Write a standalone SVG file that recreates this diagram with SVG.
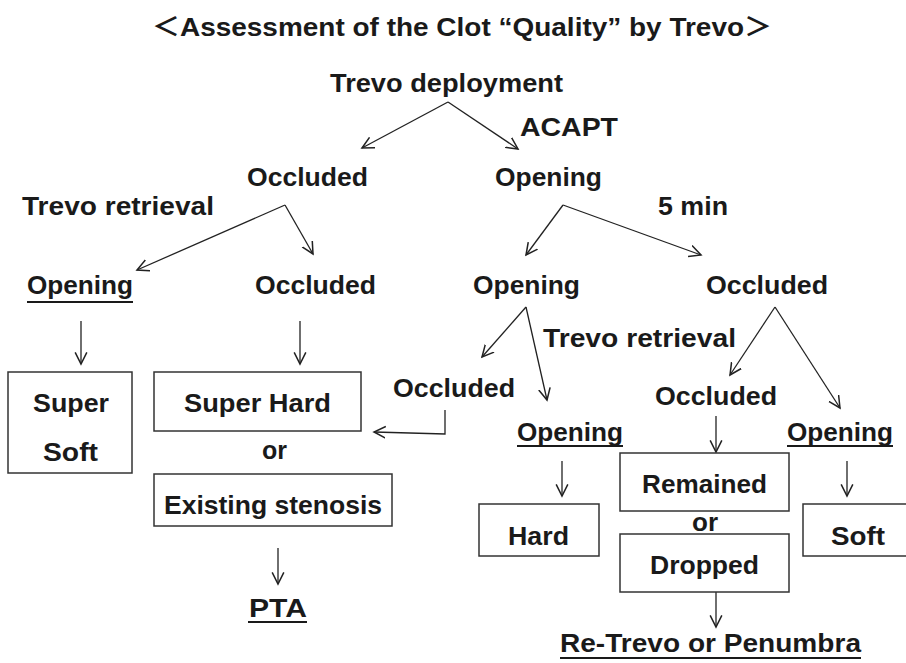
<svg xmlns="http://www.w3.org/2000/svg" width="906" height="663" viewBox="0 0 906 663">
<style>
.t{font-family:"Liberation Sans","Noto Sans CJK JP",Arial,sans-serif;font-weight:bold;font-size:25px;fill:#1a1a1a}
.ttl{font-family:"Liberation Sans","Noto Sans CJK JP",Arial,sans-serif;font-weight:bold;font-size:26px;fill:#1a1a1a}
.ln{stroke:#222;stroke-width:1.3;fill:none}
.ul{stroke:#1a1a1a;stroke-width:2;fill:none}
.bx{stroke:#333;stroke-width:1.5;fill:#fff}
</style>
<defs>
<marker id="ah" markerUnits="userSpaceOnUse" markerWidth="14" markerHeight="14" refX="10" refY="5" orient="auto" viewBox="0 0 12 10">
<path d="M0,0 L10,5 L0,10" fill="none" stroke="#222" stroke-width="1.3"/>
</marker>
</defs>
<text class="ttl" x="152" y="36" textLength="620" lengthAdjust="spacingAndGlyphs">＜Assessment of the Clot “Quality” by Trevo＞</text>

<g id="connectors">
<line class="ln" x1="448" y1="102" x2="362" y2="148" marker-end="url(#ah)"/>
<line class="ln" x1="448" y1="102" x2="518" y2="149" marker-end="url(#ah)"/>
<line class="ln" x1="285" y1="205" x2="137" y2="270" marker-end="url(#ah)"/>
<line class="ln" x1="285" y1="205" x2="313" y2="254" marker-end="url(#ah)"/>
<line class="ln" x1="563" y1="205" x2="526" y2="255" marker-end="url(#ah)"/>
<line class="ln" x1="563" y1="205" x2="701" y2="255" marker-end="url(#ah)"/>
<line class="ln" x1="81" y1="321" x2="81" y2="364" marker-end="url(#ah)"/>
<line class="ln" x1="300" y1="321" x2="300" y2="364" marker-end="url(#ah)"/>
<line class="ln" x1="526" y1="307" x2="482" y2="357" marker-end="url(#ah)"/>
<line class="ln" x1="526" y1="307" x2="547" y2="400" marker-end="url(#ah)"/>
<line class="ln" x1="775" y1="307" x2="730" y2="375" marker-end="url(#ah)"/>
<line class="ln" x1="775" y1="307" x2="840" y2="408" marker-end="url(#ah)"/>
<polyline class="ln" points="445,410 445,434 374,432" marker-end="url(#ah)"/>
<line class="ln" x1="278" y1="548" x2="278" y2="584" marker-end="url(#ah)"/>
<line class="ln" x1="716" y1="416" x2="716" y2="452" marker-end="url(#ah)"/>
<line class="ln" x1="562" y1="461" x2="562" y2="496" marker-end="url(#ah)"/>
<line class="ln" x1="847" y1="461" x2="847" y2="496" marker-end="url(#ah)"/>
<line class="ln" x1="716" y1="592" x2="716" y2="627" marker-end="url(#ah)"/>
</g>

<g id="n-deploy"><text class="t" x="330" y="92" textLength="233" lengthAdjust="spacingAndGlyphs">Trevo deployment</text></g>
<g id="l-acapt"><text class="t" x="520" y="136" textLength="98" lengthAdjust="spacingAndGlyphs">ACAPT</text></g>
<g id="n-occ1"><text class="t" x="247" y="186" textLength="121" lengthAdjust="spacingAndGlyphs">Occluded</text></g>
<g id="n-open1"><text class="t" x="495" y="186" textLength="107" lengthAdjust="spacingAndGlyphs">Opening</text></g>
<g id="l-retr1"><text class="t" x="22" y="215" textLength="192" lengthAdjust="spacingAndGlyphs">Trevo retrieval</text></g>
<g id="l-5min"><text class="t" x="658" y="215" textLength="70" lengthAdjust="spacingAndGlyphs">5 min</text></g>

<g id="n-open2a"><text class="t" x="27" y="294" textLength="106" lengthAdjust="spacingAndGlyphs">Opening</text><line class="ul" x1="27" y1="302" x2="133" y2="302"/></g>
<g id="n-occ2a"><text class="t" x="255" y="294" textLength="121" lengthAdjust="spacingAndGlyphs">Occluded</text></g>
<g id="n-open2b"><text class="t" x="473" y="294" textLength="107" lengthAdjust="spacingAndGlyphs">Opening</text></g>
<g id="n-occ2b"><text class="t" x="706" y="294" textLength="122" lengthAdjust="spacingAndGlyphs">Occluded</text></g>

<g id="n-supersoft"><rect class="bx" x="8" y="372" width="124" height="101"/>
<text class="t" x="33" y="412" textLength="76" lengthAdjust="spacingAndGlyphs">Super</text>
<text class="t" x="43" y="461" textLength="55" lengthAdjust="spacingAndGlyphs">Soft</text></g>

<g id="n-superhard"><rect class="bx" x="154" y="372" width="207" height="59"/>
<text class="t" x="184" y="412" textLength="147" lengthAdjust="spacingAndGlyphs">Super Hard</text></g>
<g id="l-or1"><text class="t" x="262" y="459" textLength="25" lengthAdjust="spacingAndGlyphs">or</text></g>
<g id="n-stenosis"><rect class="bx" x="154" y="474" width="238" height="52"/>
<text class="t" x="164" y="514" textLength="218" lengthAdjust="spacingAndGlyphs">Existing stenosis</text></g>
<g id="n-pta"><text class="t" x="249" y="617" textLength="58" lengthAdjust="spacingAndGlyphs">PTA</text><line class="ul" x1="248" y1="622" x2="307" y2="622"/></g>

<g id="n-occ3a"><text class="t" x="393" y="397" textLength="122" lengthAdjust="spacingAndGlyphs">Occluded</text></g>
<g id="l-retr2"><text class="t" x="543" y="347" textLength="193" lengthAdjust="spacingAndGlyphs">Trevo retrieval</text></g>
<g id="n-occ3b"><text class="t" x="655" y="405" textLength="122" lengthAdjust="spacingAndGlyphs">Occluded</text></g>
<g id="n-open3a"><text class="t" x="517" y="441" textLength="106" lengthAdjust="spacingAndGlyphs">Opening</text><line class="ul" x1="517" y1="446" x2="623" y2="446"/></g>
<g id="n-open3b"><text class="t" x="787" y="441" textLength="106" lengthAdjust="spacingAndGlyphs">Opening</text><line class="ul" x1="787" y1="446" x2="893" y2="446"/></g>

<g id="n-hard"><rect class="bx" x="479" y="504" width="120" height="52"/>
<text class="t" x="508" y="545" textLength="61" lengthAdjust="spacingAndGlyphs">Hard</text></g>
<g id="n-remained"><rect class="bx" x="620" y="453" width="169" height="58"/>
<text class="t" x="642" y="493" textLength="125" lengthAdjust="spacingAndGlyphs">Remained</text></g>
<g id="l-or2"><text class="t" x="692" y="531" textLength="26" lengthAdjust="spacingAndGlyphs">or</text></g>
<g id="n-dropped"><rect class="bx" x="620" y="534" width="169" height="58"/>
<text class="t" x="650" y="574" textLength="109" lengthAdjust="spacingAndGlyphs">Dropped</text></g>
<g id="n-soft"><rect class="bx" x="803" y="504" width="120" height="52"/>
<text class="t" x="831" y="545" textLength="54" lengthAdjust="spacingAndGlyphs">Soft</text></g>
<g id="n-retrevo"><text class="t" x="560" y="652" textLength="301" lengthAdjust="spacingAndGlyphs">Re-Trevo or Penumbra</text><line class="ul" x1="560" y1="658" x2="861" y2="658"/></g>
</svg>
